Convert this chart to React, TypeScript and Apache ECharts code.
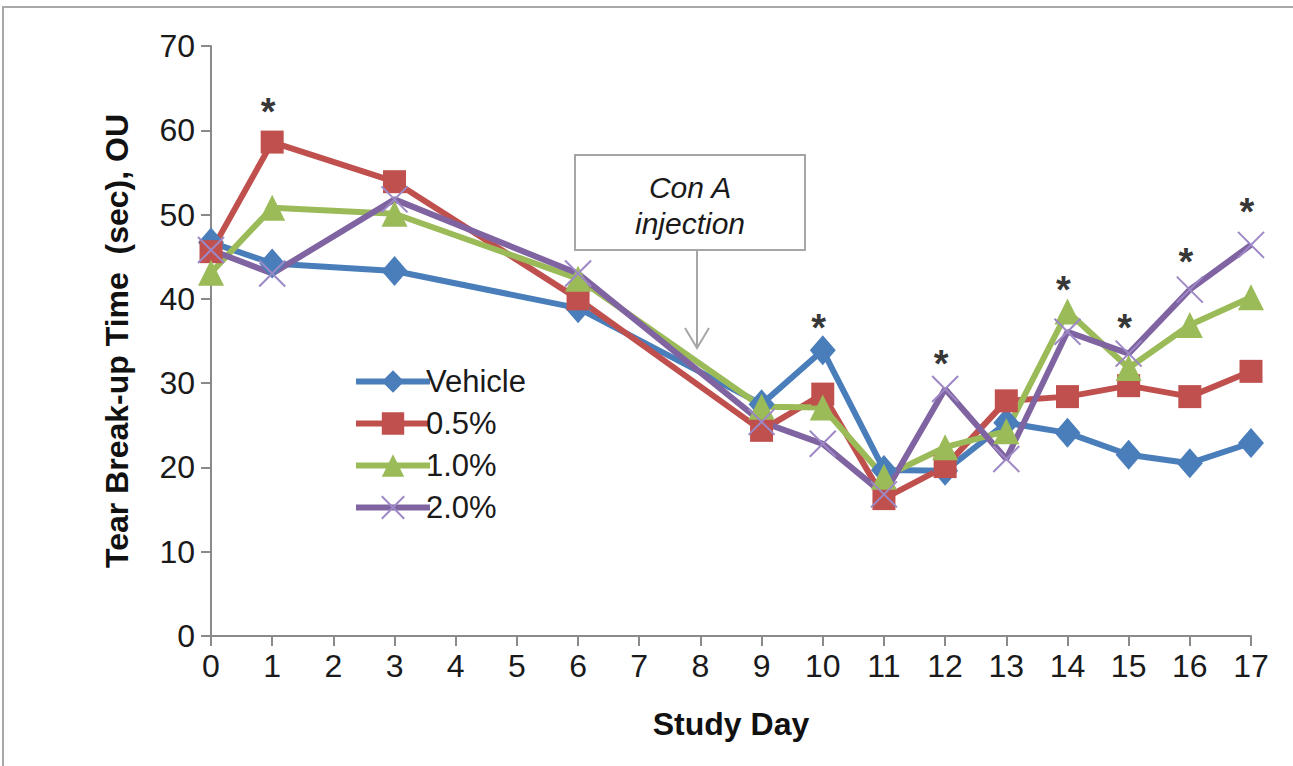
import React, { useEffect, useRef } from "react";
import * as echarts from "echarts";

const days = [0, 1, 3, 6, 9, 10, 11, 12, 13, 14, 15, 16, 17];
const vehicle = [46.7, 44.2, 43.3, 38.9, 27.5, 33.9, 19.7, 19.6, 25.3, 24.1, 21.5, 20.5, 22.9];
const pct05 = [45.6, 58.6, 53.9, 40.0, 24.4, 28.7, 16.3, 20.1, 27.9, 28.4, 29.7, 28.4, 31.4];
const pct10 = [43.1, 50.8, 50.1, 42.4, 27.2, 27.1, 18.9, 22.4, 24.3, 38.5, 31.8, 36.9, 40.2];
const pct20 = [45.8, 43.0, 51.8, 43.0, 25.4, 22.8, 16.8, 29.3, 21.0, 36.1, 33.5, 41.1, 46.4];

const starDays = [1, 10, 12, 14, 15, 16, 17];
const starValues = [63.3, 37.7, 33.5, 42.2, 37.7, 45.6, 51.5];

const seriesNames = ["Vehicle", "0.5%", "1.0%", "2.0%"];
const yTitle = "Tear Break-up Time  (sec), OU";
const xTitle = "Study Day";
const noteLines = ["Con A", "injection"];

const FONT = "'Liberation Sans', Arial, sans-serif";

export default function App() {
  const ref = useRef<HTMLDivElement>(null);

  useEffect(() => {
    if (!ref.current) return;
    const chart = echarts.init(ref.current, null, { renderer: "svg" });
    const pairs = (vals: number[]) => days.map((d, i) => [d, vals[i]]);
    const lineBase = {
      type: "line",
      lineStyle: { width: 6 },
      z: 3,
    };
    chart.setOption({
      animation: false,
      backgroundColor: "#ffffff",
      textStyle: { fontFamily: FONT },
      grid: { left: 211, right: 42, top: 46, bottom: 130 },
      legend: {
        data: seriesNames,
        orient: "vertical",
        left: 348,
        top: 361,
        itemWidth: 74,
        itemHeight: 28,
        itemGap: 11,
        lineStyle: { width: 6 },
        textStyle: { fontSize: 31, color: "#1a1a1a", fontFamily: FONT, padding: [0, 0, 0, -9] },
      },
      xAxis: {
        type: "value",
        min: 0,
        max: 17,
        interval: 1,
        name: xTitle,
        nameLocation: "middle",
        nameGap: 72,
        nameTextStyle: { fontSize: 32, fontWeight: "bold", color: "#111", fontFamily: FONT },
        axisLine: { show: true, lineStyle: { color: "#8a8a8a", width: 2 } },
        axisTick: { show: true, length: 10, lineStyle: { color: "#8a8a8a", width: 2 } },
        axisLabel: { fontSize: 32, color: "#1a1a1a", margin: 14, fontFamily: FONT },
        splitLine: { show: false },
      },
      yAxis: {
        type: "value",
        min: 0,
        max: 70,
        interval: 10,
        name: yTitle,
        nameLocation: "middle",
        nameGap: 78,
        nameRotate: 90,
        nameTextStyle: { fontSize: 32, fontWeight: "bold", color: "#111", fontFamily: FONT },
        axisLine: { show: true, lineStyle: { color: "#8a8a8a", width: 2 } },
        axisTick: { show: true, length: 10, lineStyle: { color: "#8a8a8a", width: 2 } },
        axisLabel: { fontSize: 32, color: "#1a1a1a", margin: 16, fontFamily: FONT },
        splitLine: { show: false },
      },
      series: [
        {
          ...lineBase,
          name: seriesNames[0],
          data: pairs(vehicle),
          color: "#4A7EBB",
          symbol: "diamond",
          symbolSize: [26, 30],
        },
        {
          ...lineBase,
          name: seriesNames[1],
          data: pairs(pct05),
          color: "#C0504D",
          symbol: "rect",
          symbolSize: 23,
        },
        {
          ...lineBase,
          name: seriesNames[2],
          data: pairs(pct10),
          color: "#9BBB59",
          symbol: "triangle",
          symbolSize: 26,
        },
        {
          ...lineBase,
          name: seriesNames[3],
          data: pairs(pct20),
          color: "#8064A2",
          symbol: "path://M0,0L10,10M10,0L0,10",
          symbolSize: 26,
          itemStyle: { color: "#8064A2", borderColor: "#9d88c6", borderWidth: 2 },
        },
        {
          type: "scatter",
          name: "sig",
          data: starDays.map((d, i) => [d, starValues[i]]),
          symbolSize: 1,
          itemStyle: { color: "rgba(0,0,0,0)" },
          z: 5,
          label: {
            show: true,
            position: "inside",
            formatter: "*",
            fontSize: 38,
            fontWeight: "bold",
            color: "#000",
            fontFamily: FONT,
            offset: [-4, 10],
          },
        },
      ],
      graphic: [
        {
          type: "rect",
          shape: { x: 3, y: 7, width: 1320, height: 800 },
          style: { fill: "none", stroke: "#a8a8a8", lineWidth: 2 },
          silent: true,
          z: 0,
        },
        {
          type: "rect",
          shape: { x: 575, y: 155, width: 230, height: 95 },
          style: { fill: "#ffffff", stroke: "#a6a6a6", lineWidth: 2 },
          z: 10,
        },
        {
          type: "text",
          x: 690,
          y: 187,
          style: {
            text: noteLines[0],
            fontSize: 30,
            fontStyle: "italic",
            fontFamily: FONT,
            fill: "#1a1a1a",
            align: "center",
            verticalAlign: "middle",
          },
          z: 11,
        },
        {
          type: "text",
          x: 690,
          y: 223,
          style: {
            text: noteLines[1],
            fontSize: 30,
            fontStyle: "italic",
            fontFamily: FONT,
            fill: "#1a1a1a",
            align: "center",
            verticalAlign: "middle",
          },
          z: 11,
        },
        {
          type: "line",
          shape: { x1: 697, y1: 250, x2: 697, y2: 348 },
          style: { stroke: "#a6a6a6", lineWidth: 2 },
          z: 10,
        },
        {
          type: "polyline",
          shape: { points: [[685, 328], [697, 348], [709, 328]] },
          style: { stroke: "#a6a6a6", lineWidth: 2, fill: "none" },
          z: 10,
        },
      ],
    });
    return () => chart.dispose();
  }, []);

  return (
    <div
      ref={ref}
      style={{ position: "fixed", left: 0, top: 0, width: 1293, height: 766, background: "#fff" }}
    />
  );
}
